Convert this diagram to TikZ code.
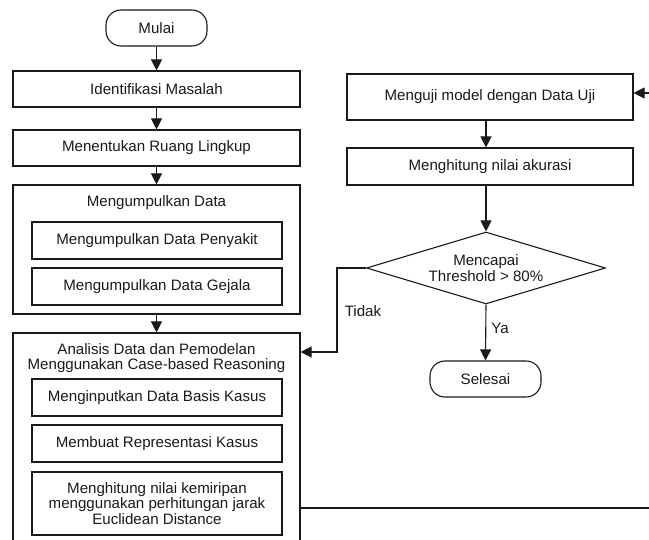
\documentclass[tikz,border=0pt]{standalone}
\usepackage{fontspec}
\setmainfont{Liberation Sans}
\usetikzlibrary{shapes.geometric,arrows.meta}
\definecolor{ink}{HTML}{1A1A1A}
\begin{document}
\begin{tikzpicture}[x=1pt,y=-1pt,
  every node/.style={font=\fontsize{15.1}{15.5}\selectfont, text=ink},
  box/.style={draw=ink, line width=1.1pt, rectangle, minimum width=287pt, minimum height=36pt, inner sep=0pt},
  inbox/.style={draw=ink, line width=1.1pt, rectangle, minimum width=250pt, minimum height=37pt, inner sep=0pt, align=center},
  term/.style={draw=ink, line width=1.1pt, rectangle, rounded corners=15pt, minimum height=36pt, inner sep=0pt},
  plain/.style={inner sep=0pt, align=center},
  arr/.style={draw=ink, line width=1.1pt, -{Triangle[length=11pt,width=11pt]}},
  ln/.style={draw=ink, line width=1.1pt}]
\useasboundingbox[fill=white] (0,0) rectangle (649,540);
\clip (0,0) rectangle (649,540);

% left column
\node[term, minimum width=101pt] (mulai) at (156.5,28) {Mulai};
\node[box] (ident) at (156.5,89) {Identifikasi Masalah};
\node[box] (ruang) at (156.5,148) {Menentukan Ruang Lingkup};
\node[box, minimum height=129pt] (kumpul) at (156.5,249.5) {};
\node[plain] (kumpult) at (156.5,203) {Mengumpulkan Data};
\node[inbox] (penyakit) at (157,240.5) {Mengumpulkan Data Penyakit};
\node[inbox] (gejala) at (157,286.5) {Mengumpulkan Data Gejala};
\node[box, minimum height=220pt] (anal) at (156.5,443) {};
\node[plain] (analt) at (156.5,358) {Analisis Data dan Pemodelan\\Menggunakan Case-based Reasoning};
\node[inbox] (input) at (157,397.5) {Menginputkan Data Basis Kasus};
\node[inbox] (repr) at (157,443.5) {Membuat Representasi Kasus};
\node[inbox, minimum height=63pt] (mirip) at (157,503.5) {Menghitung nilai kemiripan\\menggunakan perhitungan jarak\\Euclidean Distance};

% right column
\node[box, minimum width=286pt, minimum height=46pt] (uji) at (490,97) {Menguji model dengan Data Uji};
\node[box, minimum width=286pt, minimum height=37pt] (akurasi) at (490,166.5) {Menghitung nilai akurasi};
\node[draw=ink, line width=1.1pt, diamond, aspect=3.3, inner sep=0pt, minimum width=239pt, minimum height=72pt, align=center] (dia) at (486,268) {Mencapai\\Threshold > 80\%};
\node[term, minimum width=111pt] (selesai) at (485.5,379) {Selesai};

% connectors
\draw[arr] (mulai) -- (ident);
\draw[arr] (ident) -- (ruang);
\draw[arr] (ruang) -- (kumpul);
\draw[arr] (kumpul) -- (anal);
\draw[arr] (uji.south -| dia.north) -- (akurasi.north -| dia.north);
\draw[arr] (akurasi.south -| dia.north) -- (dia.north);
\draw[arr] (dia.south) -- node[plain, right=5pt, pos=0.42] (ya) {Ya} (selesai.north);
\coordinate (tk) at (337,352);
\draw[arr] (dia.west) -| (tk) -- (anal.east |- tk);
\node[plain] (tidak) at (363,311) {Tidak};
\coordinate (eb) at (649,508);
\coordinate (et) at (649,93);
\draw[ln] (anal.east |- eb) -- (eb);
\draw[arr] (et) -- (uji.east |- et);
\end{tikzpicture}
\end{document}
